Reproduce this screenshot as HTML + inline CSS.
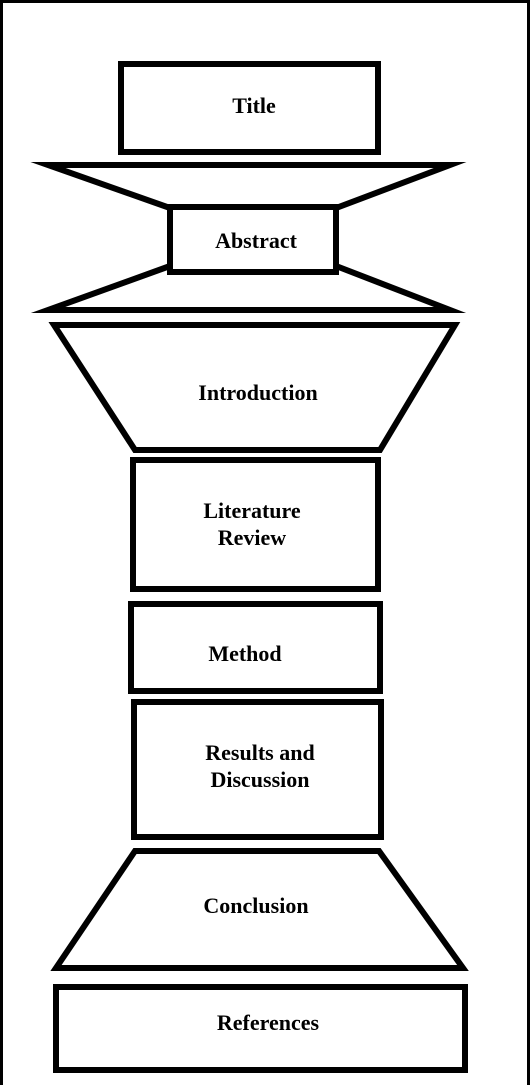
<!DOCTYPE html>
<html><head><meta charset="utf-8"><style>
html,body{margin:0;padding:0;background:#fff;}
svg{display:block;}
text{font-family:"Liberation Serif",serif;font-weight:bold;font-size:22px;fill:#000;text-anchor:middle;}
</style></head><body>
<svg width="530" height="1085" viewBox="0 0 530 1085" xmlns="http://www.w3.org/2000/svg">
<rect x="1.5" y="1.5" width="527" height="1090" fill="none" stroke="#000" stroke-width="3"/>
<g fill="none" stroke="#000" stroke-width="6" stroke-linejoin="miter" stroke-miterlimit="30">
<rect x="121" y="64" width="257" height="88"/>
<polygon points="170,208 48,165 450,165 336,208" />
<polygon points="170,266 48,310 450,310 336,266"/>
<polygon points="170,207 336,207 336,272 170,272" fill="#fff"/>
<polygon points="54,325 455,325 380,450 135,450"/>
<rect x="133" y="460" width="245" height="129"/>
<rect x="131" y="604" width="249" height="87"/>
<rect x="134" y="702" width="247" height="135"/>
<polygon points="135,851 379,851 463,968 56,968"/>
<rect x="56" y="987" width="409" height="83"/>
</g>
<text x="254" y="113">Title</text>
<text x="256" y="248">Abstract</text>
<text x="258" y="400">Introduction</text>
<text x="252" y="518">Literature</text>
<text x="252" y="545">Review</text>
<text x="245" y="661">Method</text>
<text x="260" y="760">Results and</text>
<text x="260" y="787">Discussion</text>
<text x="256" y="913">Conclusion</text>
<text x="268" y="1030">References</text>
</svg>
</body></html>
